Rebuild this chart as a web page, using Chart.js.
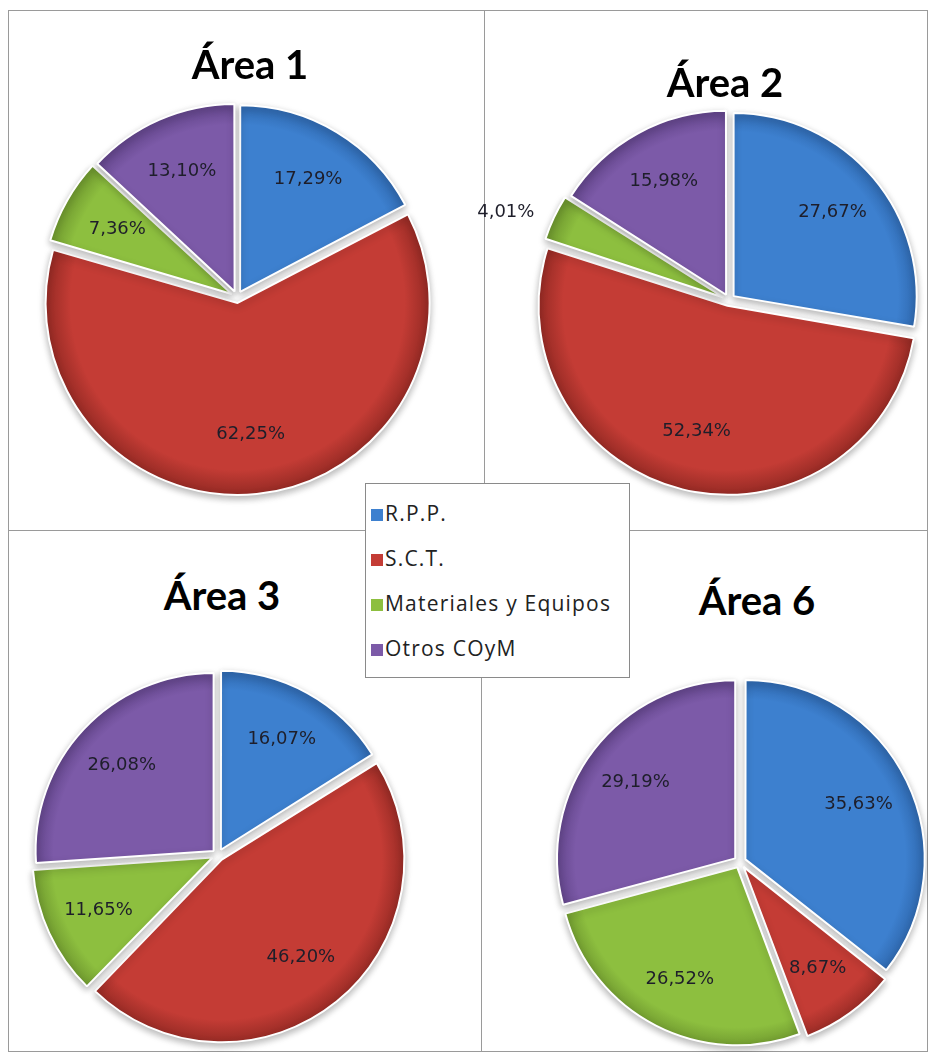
<!DOCTYPE html>
<html>
<head>
<meta charset="utf-8">
<script src="https://cdn.jsdelivr.net/npm/chart.js@4"></script>
<style>
    html, body { margin: 0; padding: 0; background: #fff; overflow: hidden; }
    #page { position: relative; width: 928px; height: 1052px; overflow: hidden; }
    .line { position: absolute; background: #9a9a9a; }
    canvas { position: absolute; }
    .title { position: absolute; font-family: Lato, sans-serif; font-weight: bold; font-size: 40px; color: #000; transform: translateX(-50%); white-space: nowrap; line-height: 1; }
    #legend { position: absolute; left: 365px; top: 483px; width: 265px; height: 195px; background: #fff; border: 1px solid #8a8a8a; box-sizing: border-box; font-family: "Open Sans", sans-serif; font-size: 21px; letter-spacing: 1.2px; color: #222; }
    #legend div { position: absolute; left: 5px; white-space: nowrap; line-height: 28px; }
    #legend span { display: inline-block; width: 12px; height: 12px; margin-right: 2px; vertical-align: 0px; }
</style>
</head>
<body>
<div id="page">
    <div class="line" style="left:8px; top:10px; width:920px; height:1px;"></div>
    <div class="line" style="left:8px; top:10px; width:1px; height:1042px;"></div>
    <div class="line" style="left:927px; top:10px; width:1px; height:1042px;"></div>
    <div class="line" style="left:8px; top:1051px; width:920px; height:1px;"></div>
    <div class="line" style="left:484px; top:10px; width:1px; height:521px;"></div>
    <div class="line" style="left:8px; top:530px; width:920px; height:1px;"></div>
    <div class="line" style="left:481px; top:530px; width:1px; height:522px;"></div>
    <div id="legend"></div>
</div>
<script>
// data
const categories = ["R.P.P.", "S.C.T.", "Materiales y Equipos", "Otros COyM"];
const areaTitles = ["Área 1", "Área 2", "Área 3", "Área 6"];
const area1 = [17.29, 62.25, 7.36, 13.10];
const area2 = [27.67, 52.34, 4.01, 15.98];
const area3 = [16.07, 46.20, 11.65, 26.08];
const area6 = [35.63, 8.67, 26.52, 29.19];

// colours: base, dark rim
const baseColors = ["#3d80cf", "#c43c35", "#8dbf3f", "#7c5aa8"];
const darkColors = ["#2b62a6", "#952a24", "#6a922c", "#5b3f82"];

// chart.js moves an arc by offset/4 px
const OFFSET = 24;
const CW = 600, CH = 470;

// pie centers, radius, title anchors
const charts = [
    { values: area1, cx: 237, cy: 297, r: 186, tx: 250, ty: 44 },
    { values: area2, cx: 729, cy: 300, r: 183, tx: 725, ty: 62 },
    { values: area3, cx: 218, cy: 855, r: 178, tx: 222, ty: 575 },
    { values: area6, cx: 740, cy: 862, r: 178, tx: 757, ty: 580 }
];

const page = document.getElementById("page");

function fmt(v) {
    return v.toFixed(2).replace(".", ",") + "%";
};

function shade(ctx) {
    let i = ctx.dataIndex;
    let chart = ctx.chart;
    let a = chart.chartArea;
    if (!a) return baseColors[i];
    let cx = (a.left + a.right) / 2;
    let cy = (a.top + a.bottom) / 2;
    let rr = chart.options.radius + OFFSET / 4;
    let g = chart.ctx.createRadialGradient(cx, cy, 0, cx, cy, rr);
    g.addColorStop(0, baseColors[i]);
    g.addColorStop(0.87, baseColors[i]);
    g.addColorStop(1, darkColors[i]);
    return g;
};

// shadow under the slices
const shadowPlugin = {
    id: "shadow",
    beforeDatasetsDraw(chart) {
        chart.ctx.save();
        chart.ctx.shadowColor = "rgba(0,0,0,0.28)";
        chart.ctx.shadowBlur = 7;
        chart.ctx.shadowOffsetY = 3;
    },
    afterDatasetsDraw(chart) {
        chart.ctx.restore();
    }
};

// percent labels
const labelPlugin = {
    id: "pctLabels",
    afterDraw(chart) {
        let ctx = chart.ctx;
        let meta = chart.getDatasetMeta(0);
        let vals = chart.data.datasets[0].data;
        ctx.save();
        ctx.font = "18px 'DejaVu Sans', sans-serif";
        ctx.fillStyle = "#1e1e2a";
        ctx.textAlign = "center";
        ctx.textBaseline = "middle";
        meta.data.forEach(function (arc, i) {
            let p = arc.getProps(["x", "y", "startAngle", "endAngle", "outerRadius"], true);
            let mid = (p.startAngle + p.endAngle) / 2;
            let f = vals[i] < 5 ? 1.3 : 0.74;
            let x = p.x + Math.cos(mid) * p.outerRadius * f;
            let y = p.y + Math.sin(mid) * p.outerRadius * f;
            if (vals[i] < 5) {
                x -= 8;
                y += 14;
            };
            ctx.fillText(fmt(vals[i]), x, y);
        });
        ctx.restore();
    }
};

for (let c = 0; c < charts.length; c++) {
    let ch = charts[c];
    let canvas = document.createElement("canvas");
    canvas.width = CW;
    canvas.height = CH;
    canvas.style.left = (ch.cx - CW / 2) + "px";
    canvas.style.top = (ch.cy - CH / 2) + "px";
    page.insertBefore(canvas, document.getElementById("legend"));

    let title = document.createElement("div");
    title.className = "title";
    title.textContent = areaTitles[c];
    title.style.left = ch.tx + "px";
    title.style.top = ch.ty + "px";
    page.appendChild(title);

    new Chart(canvas.getContext("2d"), {
        type: "pie",
        data: {
            labels: categories,
            datasets: [{
                data: ch.values,
                backgroundColor: shade,
                borderColor: "#ffffff",
                borderWidth: 2,
                offset: OFFSET
            }]
        },
        options: {
            responsive: false,
            animation: false,
            radius: ch.r,
            plugins: {
                legend: { display: false },
                tooltip: { enabled: false }
            }
        },
        plugins: [shadowPlugin, labelPlugin]
    });
};

// shared legend
let legend = document.getElementById("legend");
for (let i = 0; i < categories.length; i++) {
    let row = document.createElement("div");
    row.style.top = (15 + i * 45) + "px";
    row.innerHTML = '<span style="background:' + baseColors[i] + '"></span>' + categories[i];
    legend.appendChild(row);
};
</script>
</body>
</html>
